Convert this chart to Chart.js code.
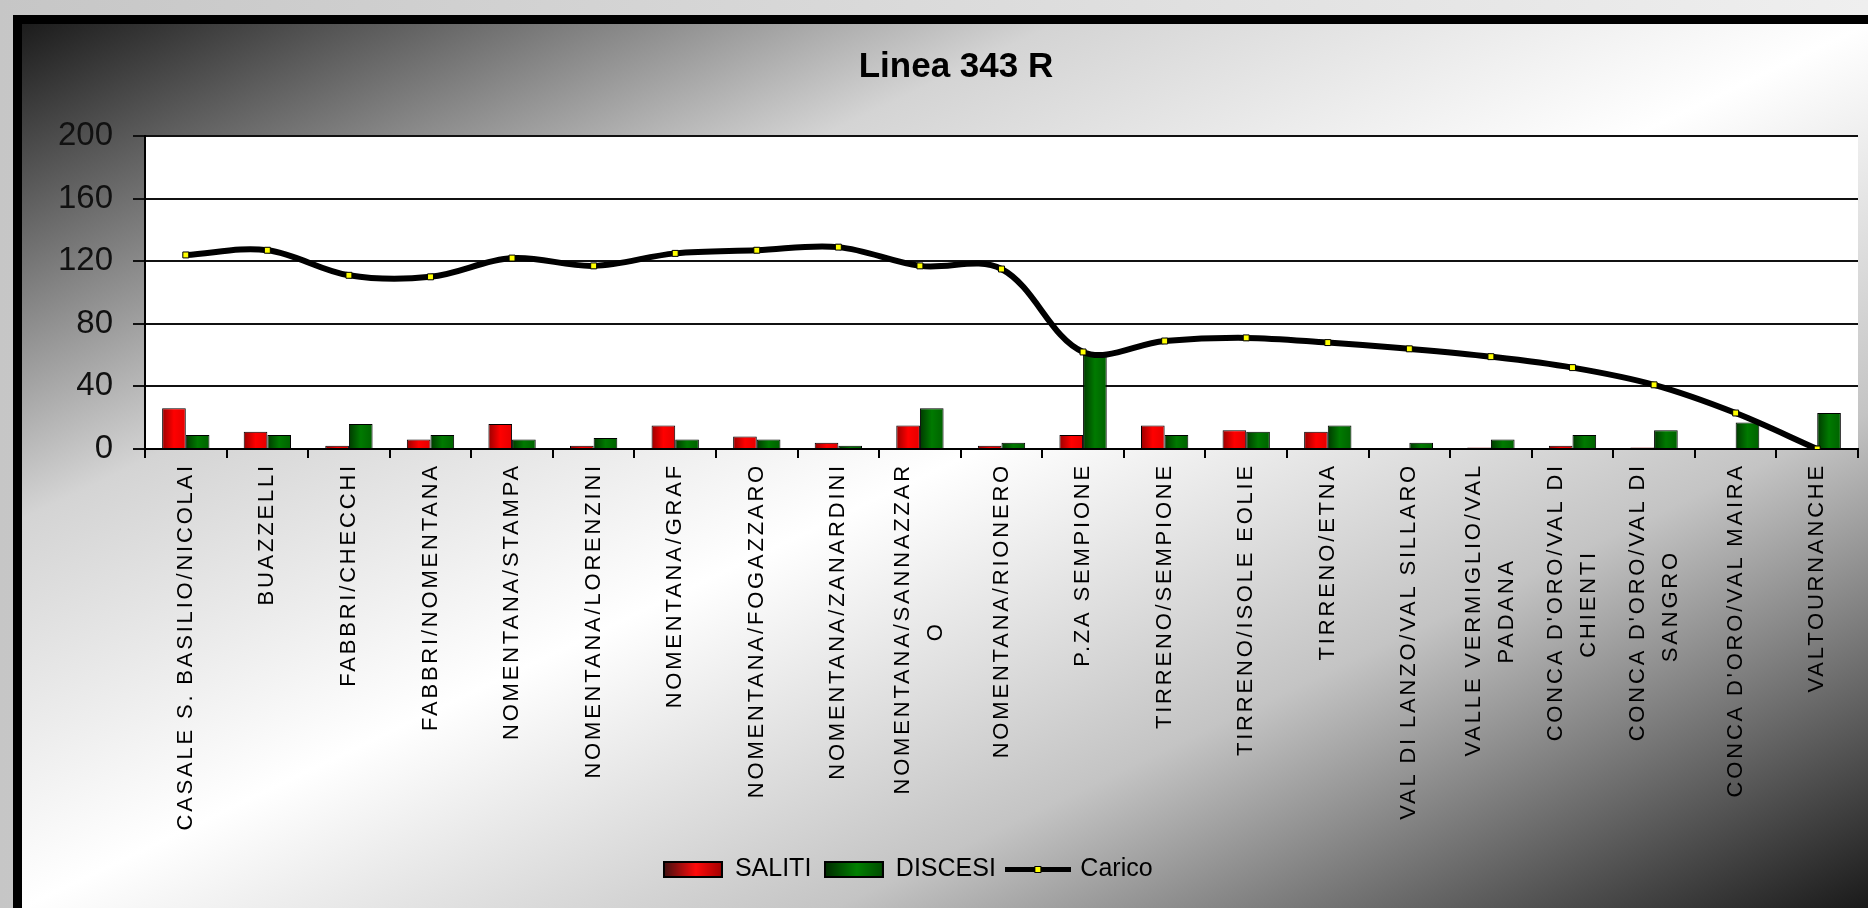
<!DOCTYPE html>
<html>
<head>
<meta charset="utf-8">
<script src="https://cdn.jsdelivr.net/npm/chart.js@4/dist/chart.umd.min.js"></script>
<style>
html,body{margin:0;padding:0;}
body{width:1868px;height:908px;overflow:hidden;position:relative;background:linear-gradient(to right,#c6c6c6,#efefef);}
#frame{position:absolute;left:13px;top:15px;width:1855px;height:893px;background:#000;}
#inner{position:absolute;left:22px;top:24px;width:1846px;height:884px;
  background:linear-gradient(to bottom right,#1c1c1c 0%,#d4d4d4 28%,#ffffff 50%,#c4c4c4 72%,#1a1a1a 100%);}
canvas{display:block;}
</style>
</head>
<body>
<div id="frame"></div>
<div id="inner"><canvas id="c" width="1846" height="884"></canvas></div>
<script>
// ---------------- data ----------------
const chartTitle = 'Linea 343 R';
const categories = [
  'CASALE S. BASILIO/NICOLAI',
  'BUAZZELLI',
  'FABBRI/CHECCHI',
  'FABBRI/NOMENTANA',
  'NOMENTANA/STAMPA',
  'NOMENTANA/LORENZINI',
  'NOMENTANA/GRAF',
  'NOMENTANA/FOGAZZARO',
  'NOMENTANA/ZANARDINI',
  ['NOMENTANA/SANNAZZAR', 'O'],
  'NOMENTANA/RIONERO',
  'P.ZA SEMPIONE',
  'TIRRENO/SEMPIONE',
  'TIRRENO/ISOLE EOLIE',
  'TIRRENO/ETNA',
  'VAL DI LANZO/VAL SILLARO',
  ['VALLE VERMIGLIO/VAL', 'PADANA'],
  ["CONCA D'ORO/VAL DI", 'CHIENTI'],
  ["CONCA D'ORO/VAL DI", 'SANGRO'],
  "CONCA D'ORO/VAL MAIRA",
  'VALTOURNANCHE'
];
const saliti  = [26, 11, 2, 6, 16, 2, 15, 8, 4, 15, 2, 9, 15, 12, 11, 0, 1, 2, 1, 0, 0];
const discesi = [9, 9, 16, 9, 6, 7, 6, 6, 2, 26, 4, 61, 9, 11, 15, 4, 6, 9, 12, 17, 23];
const carico  = [124, 127, 111, 110, 122, 117, 125, 127, 129, 117, 115, 62, 69, 71, 68, 64, 59, 52, 41, 23, 0];
const yTicks  = [0, 40, 80, 120, 160, 200];
const seriesNames = ['SALITI', 'DISCESI', 'Carico'];

// ---------------- styling ----------------
const FONT = '"Liberation Sans", Arial, Helvetica, sans-serif';
const X_FONT_SIZE = 22;
const X_LETTER_SPACING = 2.8;
const X_WORD_SPACING = -1;
const CAT_PCT = 0.58;
const LEGEND_DX = -48;

const measureCtx = document.createElement('canvas').getContext('2d');
measureCtx.font = X_FONT_SIZE + 'px ' + FONT;
measureCtx.letterSpacing = X_LETTER_SPACING + 'px';
measureCtx.wordSpacing = X_WORD_SPACING + 'px';

function centerLines(label) {
  if (!Array.isArray(label)) return label;
  const widths = label.map(l => measureCtx.measureText(l).width);
  const maxW = Math.max(...widths);
  const sp = measureCtx.measureText('\u00a0').width;
  return label.map((l, i) => l + '\u00a0'.repeat(Math.max(0, Math.round((maxW - widths[i]) / 2 / sp))));
}

class SpacedCategoryScale extends Chart.CategoryScale {
  drawLabels(area) {
    const ctx = this.ctx;
    const prevL = ctx.letterSpacing, prevW = ctx.wordSpacing;
    ctx.letterSpacing = X_LETTER_SPACING + 'px';
    ctx.wordSpacing = X_WORD_SPACING + 'px';
    super.drawLabels(area);
    ctx.letterSpacing = prevL || '0px';
    ctx.wordSpacing = prevW || '0px';
  }
  _computeLabelItems(area) {
    const items = super._computeLabelItems(area);
    for (const it of items) {
      if (Array.isArray(it.label) && it.label.length > 1) {
        const lh = it.font.lineHeight;
        const t = it.options.translation;
        it.options.translation = [t[0] - (it.label.length - 1) * lh / 2, t[1]];
      }
    }
    return items;
  }
}
SpacedCategoryScale.id = 'spacedCategory';
Chart.register(SpacedCategoryScale);

function barFill(c0, c1, c2, side) {
  return (ctx) => {
    const chart = ctx.chart;
    const xs = chart.scales && chart.scales.x;
    if (!xs || !chart.chartArea || ctx.dataIndex == null) return c1;
    const c = xs.getPixelForValue(ctx.dataIndex);
    const bw = (xs.width / categories.length) * CAT_PCT / 2;
    const x0 = side < 0 ? c - bw : c;
    const g = chart.ctx.createLinearGradient(x0, 0, x0 + bw, 0);
    g.addColorStop(0, c0);
    g.addColorStop(0.5, c1);
    g.addColorStop(1, c2);
    return g;
  };
}

function boxIcon(c0, c1, c2) {
  const cv = document.createElement('canvas');
  cv.width = 60; cv.height = 17;
  const g = cv.getContext('2d');
  const gr = g.createLinearGradient(0, 0, 60, 0);
  gr.addColorStop(0, c0); gr.addColorStop(0.55, c1); gr.addColorStop(1, c2);
  g.fillStyle = gr; g.fillRect(0, 0, 60, 17);
  g.strokeStyle = '#000'; g.lineWidth = 2; g.strokeRect(1, 1, 58, 15);
  return cv;
}
function lineIcon() {
  const cv = document.createElement('canvas');
  cv.width = 66; cv.height = 17;
  const g = cv.getContext('2d');
  g.fillStyle = '#000'; g.fillRect(0, 6, 66, 5);
  g.fillRect(29, 5, 7, 7);
  g.fillStyle = '#ffff00'; g.fillRect(30, 6, 5, 5);
  return cv;
}
const legendIcons = [
  boxIcon('#3a1010', '#ff0a0a', '#a00000'),
  boxIcon('#002800', '#008000', '#004a00'),
  lineIcon()
];

const plotBg = {
  id: 'plotBg',
  beforeDraw(chart) {
    const {ctx, chartArea: a} = chart;
    ctx.save();
    ctx.fillStyle = '#ffffff';
    ctx.fillRect(a.left, a.top, a.right - a.left, a.bottom - a.top);
    ctx.restore();
  }
};
const legendShift = {
  id: 'legendShift',
  afterLayout(chart) {
    if (chart.legend) { chart.legend.left += LEGEND_DX; chart.legend.right += LEGEND_DX; }
  }
};

new Chart(document.getElementById('c'), {
  type: 'bar',
  data: {
    labels: categories,
    datasets: [
      { type: 'bar', label: seriesNames[0], data: saliti,
        backgroundColor: barFill('#9a0000', '#ff0000', '#e40000', -1),
        borderColor: '#000', borderWidth: 1,
        categoryPercentage: CAT_PCT, barPercentage: 1, order: 1 },
      { type: 'bar', label: seriesNames[1], data: discesi,
        backgroundColor: barFill('#003a00', '#007a00', '#006200', 1),
        borderColor: '#000', borderWidth: 1,
        categoryPercentage: CAT_PCT, barPercentage: 1, order: 1 },
      { type: 'line', label: seriesNames[2], data: carico,
        borderColor: '#000', borderWidth: 6, tension: 0.35,
        borderJoinStyle: 'round', borderCapStyle: 'round',
        pointStyle: 'rect', pointRadius: 4.2,
        pointBackgroundColor: '#ffff00', pointBorderColor: '#000', pointBorderWidth: 1,
        fill: false, order: 0 }
    ]
  },
  options: {
    responsive: false,
    animation: false,
    devicePixelRatio: 1,
    layout: { padding: { left: 32, right: 10, top: 0, bottom: 16 } },
    plugins: {
      title: {
        display: true, text: chartTitle, color: '#000',
        font: { family: FONT, size: 35, weight: 'bold', lineHeight: 1.2 },
        padding: { top: 22, bottom: 48 }
      },
      legend: {
        display: true, position: 'bottom',
        labels: {
          color: '#000', font: { family: FONT, size: 25 },
          usePointStyle: true, pointStyleWidth: 59, boxHeight: 16, padding: 13,
          sort: (a, b) => a.datasetIndex - b.datasetIndex,
          generateLabels(chart) {
            const items = Chart.defaults.plugins.legend.labels.generateLabels(chart);
            items.forEach((it) => { it.pointStyle = legendIcons[it.datasetIndex]; });
            return items;
          }
        }
      },
      tooltip: { enabled: false }
    },
    scales: {
      x: {
        type: 'spacedCategory',
        offset: true,
        grid: { offset: true, drawOnChartArea: false, drawTicks: true, tickLength: 9, color: '#000', lineWidth: 2 },
        border: { color: '#000', width: 2 },
        ticks: {
          autoSkip: false, minRotation: 90, maxRotation: 90, padding: 5, color: '#000',
          font: { family: FONT, size: X_FONT_SIZE, lineHeight: 1.5 },
          callback(v, i) { return centerLines(categories[i]); }
        },
        afterFit(s) { s.height = 395; }
      },
      y: {
        min: 0, max: 200,
        afterBuildTicks(s) { s.ticks = yTicks.map(v => ({ value: v })); },
        grid: { color: '#111', lineWidth: 2, drawTicks: true, tickLength: 12 },
        border: { color: '#000', width: 2 },
        ticks: { color: '#111', padding: 20, font: { family: FONT, size: 33 } },
        afterFit(s) { s.width = 91; }
      }
    }
  },
  plugins: [plotBg, legendShift]
});
</script>
</body>
</html>
